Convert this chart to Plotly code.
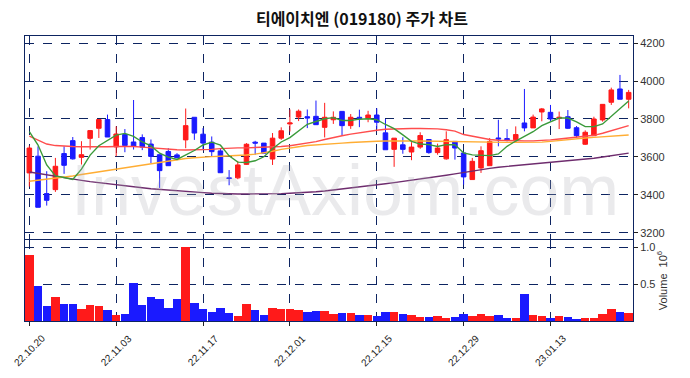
import plotly.graph_objects as go

dates = [
    "22.10.20", "22.10.21", "22.10.24", "22.10.25", "22.10.26", "22.10.27", "22.10.28", "22.10.31",
    "22.11.01", "22.11.02", "22.11.03", "22.11.04", "22.11.07", "22.11.08", "22.11.09", "22.11.10",
    "22.11.11", "22.11.14", "22.11.15", "22.11.16", "22.11.17", "22.11.18", "22.11.21", "22.11.22",
    "22.11.23", "22.11.24", "22.11.25", "22.11.28", "22.11.29", "22.11.30",
    "22.12.01", "22.12.02", "22.12.05", "22.12.06", "22.12.07", "22.12.08", "22.12.09", "22.12.12",
    "22.12.13", "22.12.14", "22.12.15", "22.12.16", "22.12.19", "22.12.20", "22.12.21", "22.12.22",
    "22.12.23", "22.12.26", "22.12.27", "22.12.28", "22.12.29",
    "23.01.02", "23.01.03", "23.01.04", "23.01.05", "23.01.06", "23.01.09", "23.01.10", "23.01.11",
    "23.01.12", "23.01.13", "23.01.16", "23.01.17", "23.01.18", "23.01.19", "23.01.20", "23.01.25",
    "23.01.26", "23.01.27", "23.01.30",
]

opens = [3516, 3604, 3407, 3428, 3618, 3686, 3598, 3698, 3751, 3797,
         3653, 3718, 3679, 3702, 3668, 3612, 3629, 3611, 3690, 3809,
         3720, 3678, 3632, 3490, 3490, 3561, 3678, 3673, 3589, 3699,
         3774, 3810, 3812, 3814, 3756, 3796, 3840, 3765, 3809, 3803,
         3821, 3727, 3640, 3664, 3626, 3652, 3692, 3623, 3590, 3682,
         3621, 3481, 3542, 3554, 3700, 3697, 3691, 3779, 3753, 3837,
         3835, 3803, 3812, 3754, 3667, 3712, 3795, 3888, 3958, 3904]
highs = [3660, 3656, 3525, 3595, 3656, 3705, 3683, 3739, 3797, 3823,
         3761, 3747, 3900, 3719, 3692, 3612, 3646, 3620, 3855, 3809,
         3752, 3708, 3646, 3531, 3579, 3673, 3685, 3673, 3726, 3756,
         3850, 3850, 3850, 3897, 3885, 3840, 3841, 3826, 3849, 3843,
         3856, 3800, 3699, 3704, 3678, 3730, 3692, 3670, 3735, 3682,
         3621, 3595, 3656, 3700, 3796, 3747, 3761, 3958, 3823, 3858,
         3874, 3839, 3847, 3763, 3740, 3812, 3877, 3965, 4032, 3953]
lows = [3444, 3335, 3344, 3416, 3511, 3586, 3560, 3639, 3700, 3705,
        3604, 3625, 3639, 3636, 3567, 3437, 3554, 3593, 3646, 3690,
        3637, 3602, 3517, 3451, 3483, 3558, 3612, 3620, 3558, 3690,
        3734, 3789, 3752, 3770, 3703, 3774, 3713, 3748, 3757, 3783,
        3748, 3638, 3548, 3617, 3583, 3643, 3617, 3612, 3586, 3586,
        3454, 3481, 3516, 3554, 3656, 3682, 3682, 3735, 3753, 3788,
        3788, 3747, 3747, 3702, 3663, 3712, 3786, 3874, 3904, 3856]
closes = [3647, 3335, 3372, 3551, 3556, 3590, 3612, 3739, 3797, 3705,
          3721, 3660, 3656, 3652, 3603, 3528, 3554, 3596, 3765, 3726,
          3673, 3628, 3517, 3487, 3558, 3667, 3673, 3620, 3699, 3738,
          3779, 3841, 3805, 3770, 3809, 3809, 3765, 3809, 3803, 3821,
          3783, 3638, 3699, 3640, 3652, 3713, 3623, 3647, 3691, 3647,
          3495, 3577, 3633, 3682, 3695, 3691, 3718, 3753, 3810, 3853,
          3800, 3809, 3751, 3712, 3730, 3800, 3877, 3953, 3904, 3940]

# volume in millions of shares
volumes = [0.896, 0.475, 0.204, 0.326, 0.231, 0.231, 0.163, 0.217, 0.204, 0.149,
           0.081, 0.095, 0.516, 0.217, 0.326, 0.299, 0.176, 0.299, 1.000, 0.244,
           0.163, 0.122, 0.176, 0.109, 0.068, 0.231, 0.149, 0.081, 0.176, 0.163,
           0.163, 0.149, 0.122, 0.136, 0.136, 0.095, 0.109, 0.109, 0.081, 0.081,
           0.068, 0.122, 0.122, 0.095, 0.081, 0.054, 0.054, 0.068, 0.041, 0.054,
           0.095, 0.068, 0.095, 0.068, 0.081, 0.041, 0.041, 0.367, 0.081, 0.068,
           0.041, 0.068, 0.054, 0.027, 0.041, 0.041, 0.095, 0.163, 0.122, 0.109]

ma5 = [3733, 3663, 3558, 3500, 3492, 3481, 3536, 3610, 3659, 3689,
       3715, 3724, 3708, 3679, 3658, 3620, 3599, 3587, 3609, 3634,
       3663, 3678, 3662, 3606, 3573, 3571, 3580, 3601, 3643, 3679,
       3702, 3735, 3772, 3787, 3801, 3807, 3792, 3792, 3799, 3801,
       3796, 3771, 3749, 3716, 3682, 3668, 3665, 3655, 3665, 3664,
       3621, 3611, 3609, 3607, 3616, 3656, 3684, 3708, 3733, 3765,
       3787, 3805, 3805, 3785, 3760, 3760, 3774, 3814, 3853, 3895]
ma20 = [3710, 3690, 3668, 3660, 3656, 3655, 3654, 3653, 3653, 3654,
        3655, 3656, 3655, 3652, 3648, 3645, 3641, 3638, 3637, 3637,
        3638, 3640, 3644, 3647, 3648, 3648, 3649, 3650, 3652, 3655,
        3659, 3665, 3672, 3681, 3692, 3703, 3712, 3720, 3728, 3735,
        3741, 3746, 3748, 3749, 3750, 3750, 3750, 3748, 3743, 3736,
        3718, 3708, 3698, 3692, 3688, 3686, 3685, 3685, 3685, 3686,
        3690, 3695, 3699, 3703, 3707, 3714, 3725, 3738, 3752, 3765]
ma60 = [3472, 3477, 3482, 3487, 3493, 3500, 3508, 3515, 3523, 3530,
        3538, 3546, 3553, 3560, 3567, 3574, 3580, 3586, 3592, 3596,
        3600, 3602, 3604, 3606, 3607, 3610, 3615, 3622, 3630, 3640,
        3648, 3654, 3660, 3664, 3667, 3670, 3673, 3676, 3679, 3681,
        3683, 3684, 3685, 3685, 3685, 3684, 3683, 3682, 3681, 3680,
        3680, 3679, 3678, 3678, 3677, 3677, 3677, 3677, 3677, 3678,
        3682, 3687, 3692, 3697, 3700, 3703, 3707, 3710, 3713, 3716]
ma120 = [3521, 3513, 3506, 3499, 3491, 3484, 3477, 3470, 3464, 3458,
         3453, 3447, 3442, 3438, 3433, 3429, 3425, 3421, 3418, 3415,
         3412, 3409, 3407, 3406, 3405, 3405, 3405, 3405, 3406, 3407,
         3409, 3411, 3414, 3417, 3421, 3426, 3431, 3436, 3442, 3447,
         3453, 3459, 3465, 3471, 3477, 3484, 3490, 3497, 3504, 3511,
         3519, 3526, 3533, 3540, 3546, 3550, 3554, 3558, 3562, 3566,
         3570, 3574, 3578, 3583, 3588, 3593, 3600, 3606, 3613, 3620]

price_ticks = [3200, 3400, 3600, 3800, 4000, 4200]
volume_ticks = [0.5, 1.0]
date_tick_step = 10

UP = "#ff1a1a"
DOWN = "#1a1aff"
GRID = "#0d2461"
FRAME = "#0d2461"

x = list(range(len(dates)))
bar_colors = [UP if c > o else DOWN for o, c in zip(opens, closes)]

fig = go.Figure()

fig.add_trace(go.Candlestick(
    x=x, open=opens, high=highs, low=lows, close=closes,
    increasing=dict(line=dict(color=UP, width=1), fillcolor=UP),
    decreasing=dict(line=dict(color=DOWN, width=1), fillcolor=DOWN),
    xaxis="x", yaxis="y", showlegend=False, hoverinfo="skip",
))

for vals, col in [(ma120, "#6e2c6e"), (ma60, "#ffad33"), (ma20, "#ff4d4d"), (ma5, "#3a9a3a")]:
    fig.add_trace(go.Scatter(x=x, y=vals, mode="lines", line=dict(color=col, width=1.4),
                             xaxis="x", yaxis="y", showlegend=False, hoverinfo="skip"))

fig.add_trace(go.Bar(x=x, y=volumes, marker=dict(color=bar_colors, line=dict(width=0)),
                     width=0.97, xaxis="x2", yaxis="y2", showlegend=False, hoverinfo="skip"))

tickvals = x[::date_tick_step]
ticktext = dates[::date_tick_step]

common_x = dict(range=[-0.5, len(dates) - 0.5], tickvals=tickvals, showgrid=True,
                gridcolor=GRID, griddash="dash", gridwidth=1, showline=True,
                linecolor=FRAME, linewidth=1, mirror=True, zeroline=False, automargin=False)

annotations = [dict(text="InvestAxiom.com", xref="paper", yref="y", x=0.526, y=3426,
                    xanchor="center", yanchor="middle", showarrow=False,
                    font=dict(family="Liberation Sans", size=72, color="rgba(170,170,180,0.25)"))]
for tv, tt in zip(tickvals, ticktext):
    annotations.append(dict(text=tt, xref="x2", yref="paper", x=tv, y=0, yshift=-9,
                            xanchor="center", yanchor="top", textangle=-45, showarrow=False,
                            font=dict(family="Liberation Sans", size=10, color="#222")))

fig.update_layout(
    width=690, height=378,
    margin=dict(l=17, r=65, t=28, b=65, autoexpand=False),
    paper_bgcolor="white", plot_bgcolor="white",
    bargap=0, boxgap=0.25,
    title=dict(text="<b>티에이치엔 (019180) 주가 차트</b>", x=0.513, xanchor="center",
               y=0.971, yanchor="middle",
               font=dict(family="Noto Sans CJK KR", size=16, color="#111111")),
    xaxis=dict(common_x, domain=[0, 1], anchor="y", showticklabels=False, ticks="",
               rangeslider=dict(visible=False), matches="x2"),
    xaxis2=dict(common_x, domain=[0, 1], anchor="y2", showticklabels=False,
                ticks="outside", ticklen=4, tickcolor="#222"),
    yaxis=dict(domain=[0.2877, 1], range=[3168, 4237], side="right", tickvals=price_ticks,
               showgrid=True, gridcolor=GRID, griddash="dash", gridwidth=1, automargin=False,
               showline=True, linecolor=FRAME, linewidth=1, mirror=True, zeroline=False,
               ticks="outside", ticklen=4, tickcolor="#222",
               tickfont=dict(family="Liberation Sans", size=11, color="#333")),
    yaxis2=dict(domain=[0, 0.284], range=[0, 1.1], side="right", tickvals=volume_ticks,
                tickformat=".1f", showgrid=True, gridcolor=GRID, griddash="dash", gridwidth=1,
                showline=True, linecolor=FRAME, linewidth=1, mirror=True, zeroline=False,
                automargin=False,
                ticks="outside", ticklen=4, tickcolor="#222",
                tickfont=dict(family="Liberation Sans", size=11, color="#333"),
                title=dict(text="Volume  10<sup>6</sup>", standoff=4,
                           font=dict(family="Liberation Sans", size=11, color="#333"))),
    annotations=annotations,
)

fig.write_html("out.html")
